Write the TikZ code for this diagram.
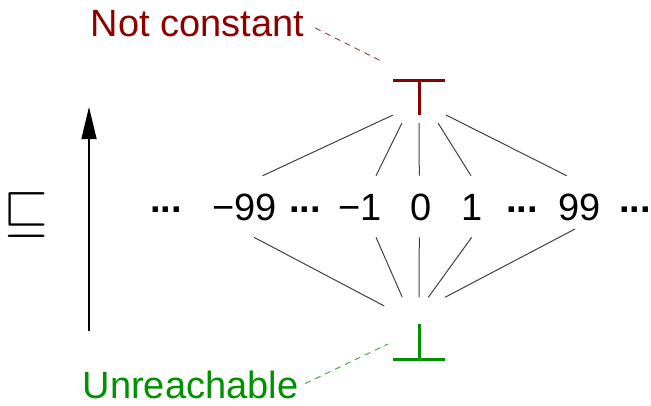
\documentclass[tikz,border=0pt]{standalone}
\usepackage{fontspec}
\usepackage{graphicx}
\setmainfont{Liberation Sans}
\usetikzlibrary{arrows.meta,calc}
\definecolor{topred}{RGB}{140,0,0}
\definecolor{botgreen}{RGB}{0,145,0}
\definecolor{edgegray}{RGB}{64,64,64}
\tikzset{
  lbl/.style={inner sep=0pt, outer sep=0pt, font=\fontsize{38}{40}\selectfont},
  num/.style={lbl, text height=27pt, text depth=0pt, anchor=base},
  dotsnode/.style={lbl, font=\fontsize{38}{40}\selectfont\bfseries, anchor=base},
  glyphbox/.style={inner sep=0pt, outer sep=0pt, minimum width=52pt, minimum height=35pt},
  glyphline/.style={line width=3pt},
  edge/.style={draw=edgegray, line width=1pt},
  leader/.style={line width=0.9pt, dash pattern=on 6pt off 5pt},
}
\begin{document}
\begin{tikzpicture}[x=1pt, y=-1pt]
\useasboundingbox (0,0) rectangle (651,405);

% labels
\node[lbl, text=topred, anchor=base] (nc) at (197.5,36) {Not constant};
\node[lbl, text=botgreen, anchor=base, text depth=0pt] (un) at (190.5,398.5) {Unreachable};

% top and bottom elements
\node[glyphbox] (T) at (419,97.5) {};
\draw[topred, glyphline] (T.north west) -- (T.north east) (T.north) -- (T.south);
\node[glyphbox] (B) at (419,341.5) {};
\draw[botgreen, glyphline] (B.south west) -- (B.south east) (B.south) -- (B.north);

% numbers
\node[dotsnode] (d1) at (166,212) {...};
\node[num] (m99) at (244.5,220) {−99};
\node[dotsnode] (d2) at (305,212) {...};
\node[num] (m1) at (360,220) {−1};
\node[num] (z) at (421,220) {0};
\node[num] (p1) at (472,220) {1};
\node[dotsnode] (d3) at (522,212) {...};
\node[num] (p99) at (579.5,220) {99};
\node[dotsnode] (d4) at (635,212) {...};

% edges from top
\draw[edge] (T.south west) -- ($(m99.north)+(18.2,-17.3)$);
\draw[edge] ($(T.south)+(-17,8)$) -- ($(m1.north)+(16,-17.3)$);
\draw[edge] ($(T.south)+(0,8)$) -- ($(z.north)+(-1.7,-17.3)$);
\draw[edge] ($(T.south)+(19,8)$) -- ($(p1.north)+(-1,-17.3)$);
\draw[edge] ($(T.south east)+(1,0)$) -- ($(p99.north)+(-12.8,-17.3)$);

% edges to bottom
\draw[edge] ($(m99.south)+(9.5,17.3)$) -- ($(B.north)+(-34.7,-18)$);
\draw[edge] ($(m1.south)+(16,17.3)$) -- ($(B.north)+(-16.7,-26.7)$);
\draw[edge] ($(z.south)+(-1.7,17.3)$) -- ($(B.north)+(0,-26.7)$);
\draw[edge] ($(p1.south)+(-0.3,17.3)$) -- ($(B.north)+(9.3,-26.7)$);
\draw[edge] ($(p99.south)+(-4.5,9)$) -- ($(B.north)+(26,-26.7)$);

% leaders
\draw[leader, topred!80] ($(nc.base east)+(11,-8)$) -- ($(T.north west)+(-10,-18)$);
\draw[leader, botgreen!80] ($(un.base east)+(7,-15)$) -- ($(B.north west)+(-5,20)$);

% order arrow and symbol
\coordinate (abot) at (89,331);
\coordinate (atop) at (89,107);
\draw[line width=1.3pt, -{Triangle[length=32pt,width=15pt]}] (abot) -- (atop);
\node[inner sep=0pt] (sq) at (26.5,215) {\scalebox{5.8}{$\sqsubseteq$}};
\end{tikzpicture}
\end{document}
